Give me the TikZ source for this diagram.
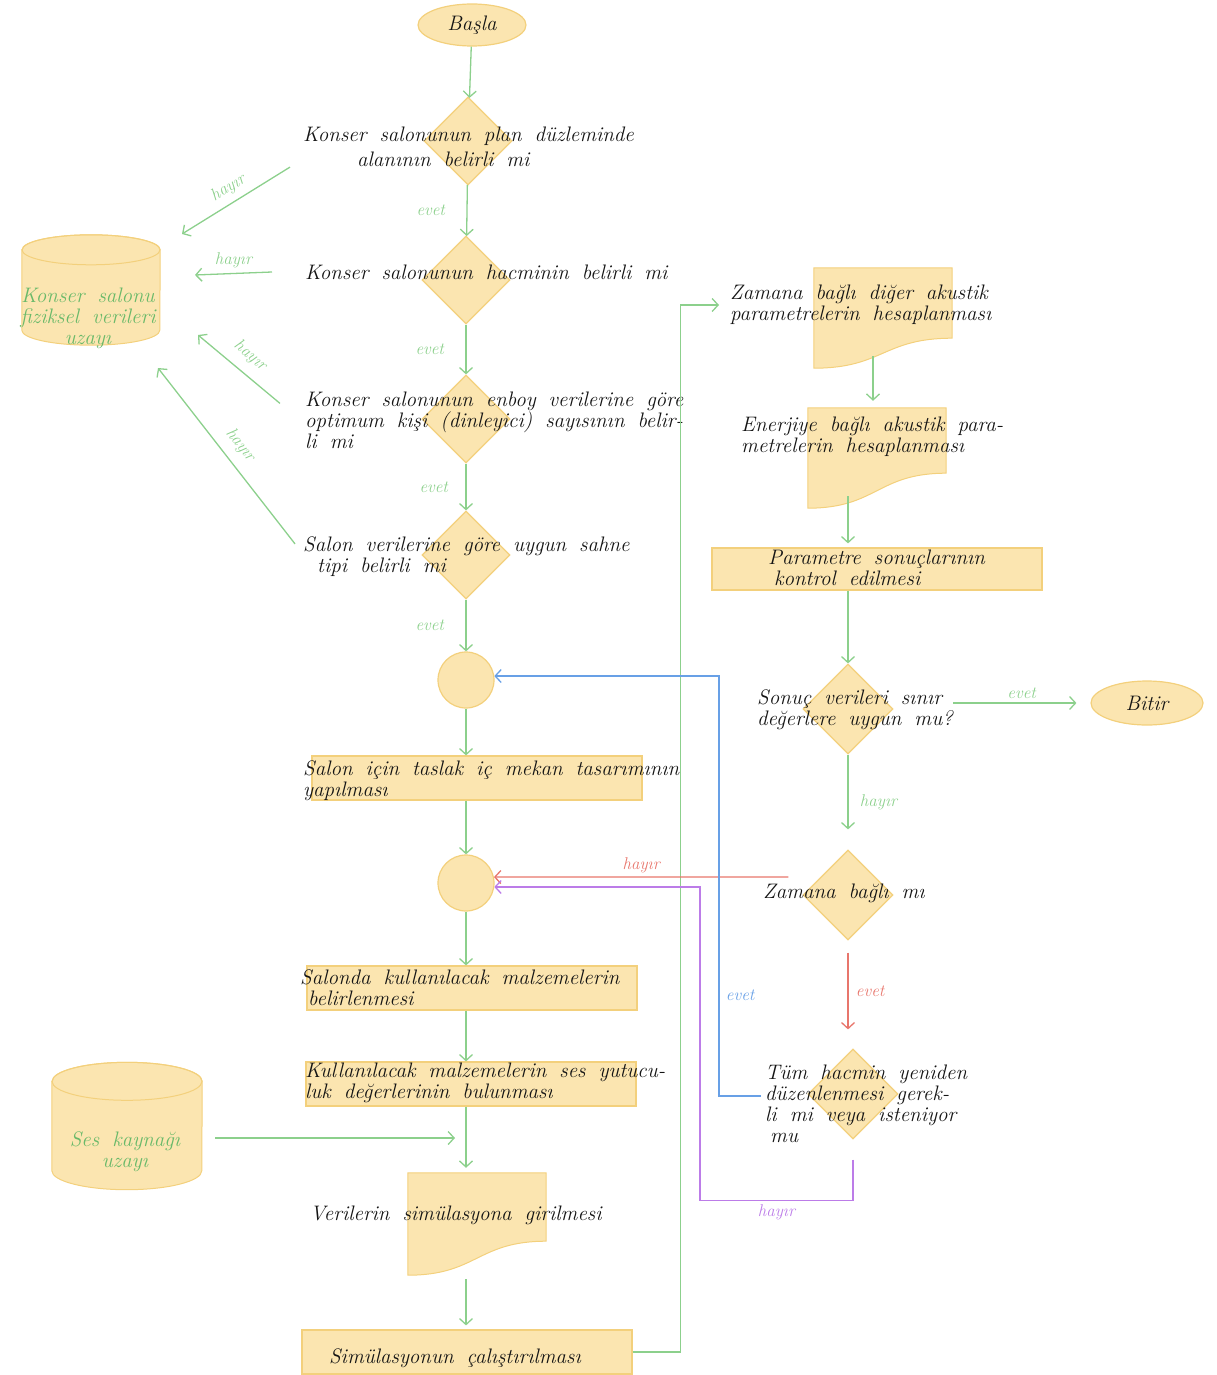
\documentclass[tikz,border=0pt]{standalone}
\usepackage{fontspec}
\usetikzlibrary{arrows.meta,positioning,calc,shapes.geometric}
\definecolor{ink}{RGB}{20,20,20}
\definecolor{boxfill}{RGB}{251,229,176}
\definecolor{boxline}{RGB}{243,208,124}
\definecolor{lineG}{RGB}{140,208,140}
\definecolor{textG}{RGB}{105,185,105}
\definecolor{lineB}{RGB}{104,160,230}
\definecolor{lineR}{RGB}{232,118,108}
\definecolor{lineP}{RGB}{188,124,232}
\tikzset{
  hand/.style={font={\fontsize{21}{21}\selectfont\itshape\spaceskip=13pt plus 3pt minus 2pt}},
  txt/.style={hand,text=ink,align=left,inner sep=0pt,anchor=west},
  term/.style={ellipse,draw=boxline,fill=boxfill,line width=1.2pt,minimum width=108pt,
    minimum height=42pt,hand,text=ink},
  dia/.style={diamond,draw=boxline,fill=boxfill,line width=1.2pt,minimum width=88pt,
    minimum height=88pt,inner sep=0pt},
  conn/.style={circle,draw=boxline,fill=boxfill,line width=1.2pt,minimum size=56pt,inner sep=0pt},
  proc/.style={rectangle,draw=boxline,fill=boxfill,line width=1.2pt,minimum width=330pt,
    minimum height=44pt,inner sep=0pt},
  docbox/.style={rectangle,inner sep=0pt,minimum width=138pt,minimum height=100pt},
  dbbox/.style={rectangle,inner sep=0pt},
  arr/.style={-{Straight Barb[length=6pt,width=13pt]},line width=1.3pt,lineG},
  lbl/.style={font={\fontsize{17}{18}\selectfont\itshape}},
}
\begin{document}
\begin{tikzpicture}[x=1pt,y=-1pt]
\useasboundingbox (0,0) rectangle (1216,1375);
% main column
\node[term] (start) at (472,25) {Başla};
\node[dia] (d1) at (468,141) {};
\node[dia] (d2) at (466,280) {};
\node[dia] (d3) at (466,419) {};
\node[dia] (d4) at (466,555) {};
\node[conn] (c1) at (466,680) {};
\node[proc] (r1) at (477,778) {};
\node[conn] (c2) at (466,883) {};
\node[proc] (r2) at (472,988) {};
\node[proc] (r3) at (471,1084) {};
\node[docbox,minimum height=102pt] (doc1) at (477,1224) {};
\node[proc] (r4) at (467,1352) {};
% right column
\node[docbox] (doc2) at (883,318) {};
\node[docbox] (doc3) at (877,458) {};
\node[proc,minimum height=42pt] (r5) at (877,569) {};
\node[dia,minimum width=90pt,minimum height=90pt] (d5) at (848,709) {};
\node[term,minimum width=112pt,minimum height=44pt] (stop) at (1147,703) {Bitir};
\node[dia,minimum width=90pt,minimum height=90pt] (d6) at (848,895) {};
\node[dia,minimum width=90pt,minimum height=90pt] (d7) at (853,1094) {};
% data stores
\node[dbbox,minimum width=138pt,minimum height=110pt] (db1) at (91,290) {};
\node[dbbox,minimum width=150pt,minimum height=127pt] (db2) at (127,1126) {};

\foreach \n/\r in {doc1/34,doc2/30,doc3/35}
  \draw[boxline,fill=boxfill,line width=1pt] (\n.north west) -- (\n.north east)
    -- ([yshift=\r pt]\n.south east) .. controls ([yshift=\r pt]\n.south) and (\n.south) .. (\n.south west) -- cycle;
\foreach \n/\rx/\ry in {db1/69/15,db2/75/19}{
  \draw[boxline,fill=boxfill,line width=1pt] ([yshift=-\ry pt]\n.north west) -- ([yshift=\ry pt]\n.south west)
    arc[start angle=180,end angle=360,x radius=\rx pt,y radius=\ry pt] -- ([yshift=-\ry pt]\n.north east)
    arc[start angle=0,end angle=180,x radius=\rx pt,y radius=\ry pt] -- cycle;
  \draw[boxline,line width=1pt] ([yshift=-\ry pt]\n.north) ellipse[x radius=\rx pt,y radius=\ry pt];
}

% texts
\node[txt] (tq1) at (303,147) {Konser salonunun plan düzleminde\\[4pt]\hspace*{54pt}alanının belirli mi};
\node[txt] (tq2) at (305,272) {Konser salonunun hacminin belirli mi};
\node[txt] (tq3) at (305,420) {Konser salonunun enboy verilerine göre\\optimum kişi (dinleyici) sayısının belir-\\li mi};
\node[txt] (tq4) at (303,557) {Salon verilerine göre uygun sahne\\\hspace*{14pt}tipi belirli mi};
\node[txt] (tr1) at (303,781) {Salon için taslak iç mekan tasarımının\\yapılması};
\node[txt] (tr2) at (300,988) {Salonda kullanılacak malzemelerin\\\hspace*{8pt}belirlenmesi};
\node[txt] (tr3) at (305,1083) {Kullanılacak malzemelerin ses yutucu-\\luk değerlerinin bulunması};
\node[txt] (tdoc1) at (310,1215) {Verilerin simülasyona girilmesi};
\node[txt,anchor=center] (tr4) at (455,1358) {Simülasyonun çalıştırılması};
\node[txt] (tdoc2) at (730,305) {Zamana bağlı diğer akustik\\parametrelerin hesaplanması};
\node[txt] (tdoc3) at (741,437) {Enerjiye bağlı akustik para-\\metrelerin hesaplanması};
\node[txt] (tr5) at (768,568) {Parametre sonuçlarının\\\hspace*{6pt}kontrol edilmesi};
\node[txt] (td5) at (757,710) {Sonuç verileri sınır\\değerlere uygun mu?};
\node[txt] (td6) at (763,893) {Zamana bağlı mı};
\node[txt] (td7) at (765,1104) {Tüm hacmin yeniden\\düzenlenmesi gerek-\\li mi veya isteniyor\\\hspace*{5pt}mu};
\node[txt,text=textG,align=center,anchor=center] (tdb1) at (88,318) {Konser salonu\\fiziksel verileri\\uzayı};
\node[txt,text=textG,align=center,anchor=center] (tdb2) at (125,1152) {Ses kaynağı\\uzayı};

% connectors
\coordinate (h1) at (182,234);
\coordinate (h2) at (195,275);
\coordinate (h3) at (198,335);
\coordinate (h4) at (158,368);
\coordinate (s1) at (455,1138);
\draw[arr] (start) -- (d1);
\draw[arr] (d1) -- node[lbl,left=18pt]{evet} (d2);
\draw[arr] (d2) -- node[lbl,left=18pt]{evet} (d3);
\draw[arr] (d3) -- node[lbl,left=14pt]{evet} (d4);
\draw[arr] (d4) -- node[lbl,left=18pt]{evet} (c1);
\draw[arr] (c1) -- (c1 |- r1.north);
\draw[arr] (r1.south -| c2) -- (c2);
\draw[arr] (c2) -- (c2 |- r2.north);
\draw[arr] (r2.south -| c2) -- (c2 |- r3.north);
\draw[arr,shorten >=5pt] (r3.south -| c2) -- (c2 |- doc1.north);
\draw[arr,shorten <=4pt,shorten >=4pt] (doc1.south -| c2) -- (c2 |- r4.north);
\draw[arr,shorten >=11pt] (r4.east) -- ++(48,0) |- (tdoc2.west);
\draw[arr,shorten >=7pt] ([xshift=-10pt,yshift=12pt]doc2.south) -- ([xshift=-10pt]doc2.south |- doc3.north);
\draw[arr,shorten >=4pt] ([yshift=12pt]doc3.south -| d5) -- (d5 |- r5.north);
\draw[arr] (r5.south -| d5) -- (d5);
\draw[arr,shorten >=14pt] (td5.east |- stop) -- node[lbl,above]{evet} (stop.west);
\draw[arr,shorten >=20pt] (d5) -- node[lbl,right=8pt]{hayır} (d6);
\draw[arr,lineR] ([xshift=-14pt,yshift=18pt]d6.west) -- node[lbl,above]{hayır} (c2.12);
\draw[arr,lineR] ([yshift=-12pt]d6.south) -- node[lbl,right=4pt]{evet} ([yshift=19pt]d7.north -| d6);
\draw[arr,lineB] ([xshift=-4pt,yshift=8pt]td7.west) -- ++(-42,0) |- node[lbl,pos=.12,right=3pt]{evet} (c1.8);
\draw[arr,lineP] ([yshift=-20pt]d7.south) -- ++(0,41) -- node[lbl,below]{hayır} ++(-153,0) |- (c2.-8);
\draw[arr] ([xshift=-13pt]tq1.south west) -- node[lbl,sloped,above=3pt]{hayır} (h1);
\draw[arr] ([xshift=-33pt]tq2.west) -- node[lbl,above=2pt]{hayır} (h2);
\draw[arr] ([xshift=-25pt,yshift=-12pt]tq3.north west) -- node[lbl,sloped,above=6pt]{hayır} (h3);
\draw[arr] ([xshift=-8pt,yshift=-7pt]tq4.north west) -- node[lbl,sloped,above=6pt]{hayır} (h4);
\draw[arr,shorten <=13pt] (db2.east |- s1) -- (s1);
\end{tikzpicture}
\end{document}
